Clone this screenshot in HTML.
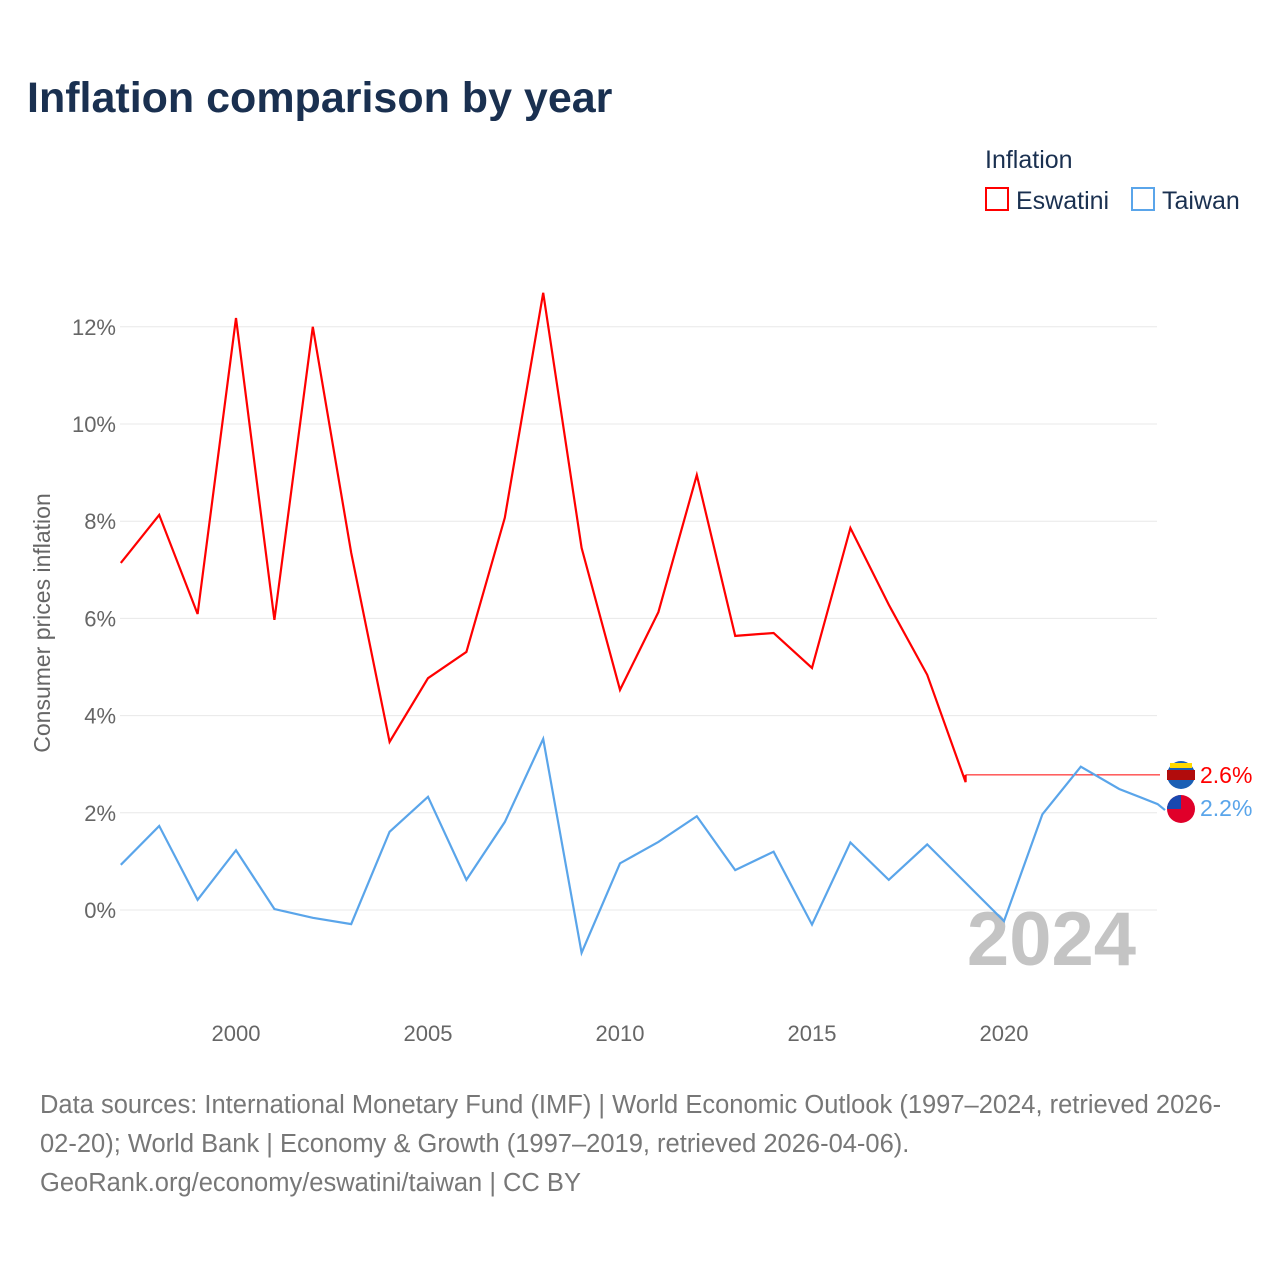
<!DOCTYPE html>
<html><head><meta charset="utf-8"><style>
body{margin:0;background:#fff;font-family:"Liberation Sans",sans-serif;}
svg text{font-family:"Liberation Sans",sans-serif;}
</style></head><body>
<svg id="chart" width="1280" height="1280" viewBox="0 0 1280 1280" xmlns="http://www.w3.org/2000/svg">
<rect width="1280" height="1280" fill="#fff"/>
<text x="27" y="112" font-size="43" font-weight="bold" fill="#1a3050">Inflation comparison by year</text>
<text x="985" y="168" font-size="25" fill="#1a3050">Inflation</text>
<g><rect x="986" y="188" width="22" height="22" fill="none" stroke="#ff0000" stroke-width="2"/><text x="1016" y="209" font-size="25" fill="#1a3050">Eswatini</text></g>
<g><rect x="1132" y="188" width="22" height="22" fill="none" stroke="#5aa5ea" stroke-width="2"/><text x="1162" y="209" font-size="25" fill="#1a3050">Taiwan</text></g>
<text transform="translate(50,623) rotate(-90)" text-anchor="middle" font-size="23" fill="#666">Consumer prices inflation</text>
<g id="grid"></g><g id="xt"></g>
<text x="1136" y="965" text-anchor="end" font-size="76" font-weight="bold" fill="#c4c4c4">2024</text>
<g id="series"></g>
<g><circle cx="1181" cy="775" r="14" fill="#1a5fb4"/><rect x="1167" y="770" width="28" height="10" fill="#b10c0c"/><rect x="1170" y="763" width="22" height="5" fill="#ffd900"/><text x="1200" y="783" font-size="23" fill="#ff0000">2.6%</text></g>
<g><circle cx="1181" cy="809" r="14" fill="#e0002a"/><path d="M1167 809 A14 14 0 0 1 1181 795 L1181 809 Z" fill="#1848b0"/><text x="1200" y="816" font-size="23" fill="#5aa5ea">2.2%</text></g>
<text font-size="25.5" fill="#777"><tspan x="40" y="1113">Data sources: International Monetary Fund (IMF) | World Economic Outlook (1997–2024, retrieved 2026-</tspan><tspan x="40" y="1152">02-20); World Bank | Economy &amp; Growth (1997–2019, retrieved 2026-04-06).</tspan><tspan x="40" y="1191">GeoRank.org/economy/eswatini/taiwan | CC BY</tspan></text>
</svg>
<script>
const years=[1997,1998,1999,2000,2001,2002,2003,2004,2005,2006,2007,2008,2009,2010,2011,2012,2013,2014,2015,2016,2017,2018,2019,2020,2021,2022,2023,2024];
const eswatini=[7.14,8.13,6.09,12.18,5.97,12.0,7.35,3.46,4.77,5.31,8.07,12.7,7.45,4.53,6.13,8.95,5.64,5.70,4.98,7.86,6.28,4.84,2.63];
const eswatiniLatest=2.78;
const taiwan=[0.93,1.73,0.21,1.23,0.02,-0.16,-0.29,1.61,2.33,0.62,1.81,3.52,-0.88,0.96,1.40,1.93,0.82,1.20,-0.30,1.39,0.62,1.35,0.56,-0.23,1.97,2.95,2.49,2.18];
const yTicks=[0,2,4,6,8,10,12];
const xTicks=[2000,2005,2010,2015,2020];
const NS="http://www.w3.org/2000/svg";
const X=y=>120.8+(y-1997)*38.4;
const Y=v=>910-v*48.6;
const grid=document.getElementById('grid'),xt=document.getElementById('xt'),ser=document.getElementById('series');
yTicks.forEach(t=>{
 const l=document.createElementNS(NS,'line');
 
 
 l.setAttribute('x1',120);l.setAttribute('x2',1157);l.setAttribute('y1',Y(t));l.setAttribute('y2',Y(t));l.setAttribute('stroke','#e8e8e8');
 grid.appendChild(l);
 const tx=document.createElementNS(NS,'text');
 
 
 tx.setAttribute('x',116);tx.setAttribute('y',Y(t)+8);tx.setAttribute('text-anchor','end');tx.setAttribute('font-size','22');tx.setAttribute('fill','#666');
 tx.textContent=t+'%';grid.appendChild(tx);
});
xTicks.forEach(t=>{
 const tx=document.createElementNS(NS,'text');
 
 
 tx.setAttribute('x',X(t));tx.setAttribute('y',1041);tx.setAttribute('text-anchor','middle');tx.setAttribute('font-size','22');tx.setAttribute('fill','#666');
 tx.textContent=t;xt.appendChild(tx);
});
function line(vals,color,name,extra,w){
 let pts=vals.map((v,i)=>X(years[i])+','+Y(v));
 if(extra)pts=pts.concat(extra);
 const p=document.createElementNS(NS,'polyline');
 
 
 p.setAttribute('points',pts.join(' '));p.setAttribute('fill','none');p.setAttribute('stroke',color);p.setAttribute('stroke-width',w||'2.2');p.setAttribute('stroke-linejoin','miter');
 ser.appendChild(p);
}
const le=years[eswatini.length-1];
line(eswatini,'#ff0000','eswatini-line',[X(le)+','+Y(eswatiniLatest)]);
const c=document.createElementNS(NS,'line');


c.setAttribute('x1',X(le));c.setAttribute('x2',1160);c.setAttribute('y1',Y(eswatiniLatest));c.setAttribute('y2',Y(eswatiniLatest));c.setAttribute('stroke','#ff0000');c.setAttribute('stroke-width','1');
ser.appendChild(c);
line(taiwan,'#5aa5ea','taiwan-line',['1165,'+(Y(taiwan[taiwan.length-1])+6)]);
</script>
</body></html>
